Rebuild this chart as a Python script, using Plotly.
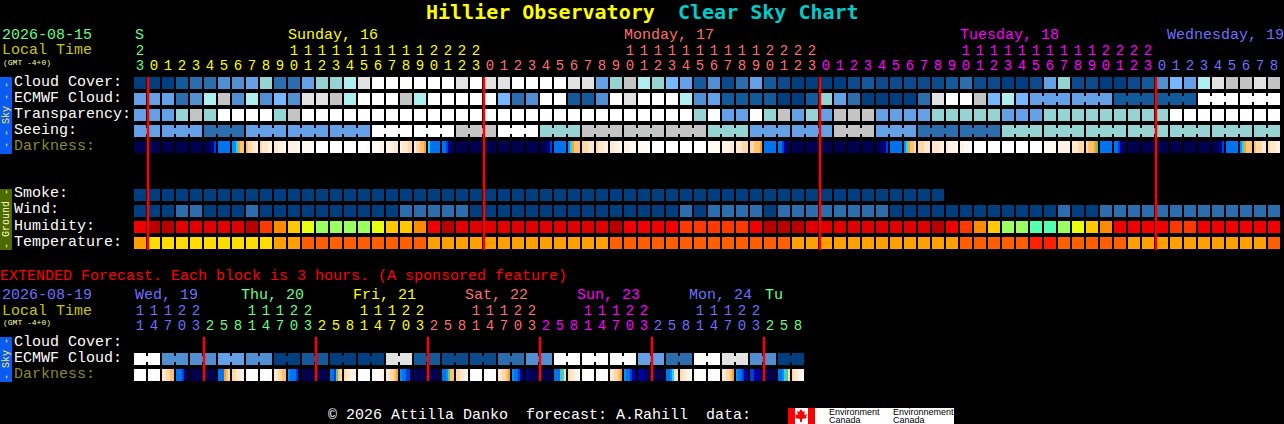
import plotly.graph_objects as go

W = 1284
H = 424
MONO = "Liberation Mono"
BOLD = "DejaVu Sans Mono"

# sky levels, clear (dark blue) to overcast (white)
sky_levels = [0, 5, 10, 20, 30, 40, 50, 60, 70, 80, 90, 100]
sky_colors = ["#003f7f", "#0c4a8b", "#135a9b", "#2c6ead", "#4f8fd2", "#63a0e6",
              "#76b7ff", "#96d4d4", "#aeeeee", "#c4c4c4", "#e2e2e2", "#ffffff"]

cloud_cover = [0, 0, 0, 10, 20, 20, 30, 30, 40, 60,
               20, 20, 40, 60, 60, 70, 90, 100, 100, 100,
               100, 100, 100, 90, 100, 90, 90, 100, 100, 100,
               100, 90, 90, 40, 60, 80, 70, 60, 50, 40,
               10, 30, 5, 20, 40, 10, 5, 0, 0, 0,
               0, 5, 10, 5, 5, 5, 5, 5, 10, 20,
               5, 5, 0, 0, 5, 40, 60, 5, 5, 0,
               0, 5, 10, 30, 50, 40, 70, 90, 80, 80, 90, 80]
ecmwf_cloud = [40, 40, 40, 20, 30, 70, 80, 30, 70, 30,
               50, 30, 90, 90, 80, 70, 100, 100, 100, 80,
               70, 100, 100, 100, 100, 100, 50, 20, 30, 100,
               100, 10, 10, 30, 100, 90, 100, 100, 100, 70,
               30, 40, 10, 10, 10, 10, 0, 0, 10, 60,
               40, 20, 0, 0, 0, 0, 20, 90, 100, 100,
               80, 50, 70, 50, 40, 40, 40, 40, 40, 40,
               10, 10, 10, 10, 10, 10, 100, 100, 100, 100, 100, 100]
transparency = [40, 40, 40, 60, 80, 60, 100, 100, 100, 100,
                60, 80, 100, 100, 100, 100, 100, 100, 100, 100,
                100, 100, 100, 100, 100, 100, 100, 100, 100, 100,
                100, 100, 100, 100, 100, 100, 100, 100, 100, 100,
                60, 100, 40, 40, 100, 60, 80, 40, 60, 40,
                80, 80, 80, 40, 40, 40, 40, 60, 60, 60,
                60, 60, 40, 40, 40, 60, 60, 60, 60, 60,
                60, 60, 60, 60, 100, 100, 100, 100, 100, 100, 100, 100]
seeing = [40, 40, 40, 40, 40, 20, 20, 20, 40, 40,
          40, 40, 40, 40, 40, 40, 40, 100, 100, 100,
          100, 100, 100, 80, 80, 80, 100, 100, 100, 60,
          60, 60, 80, 80, 80, 80, 80, 80, 80, 80,
          80, 60, 60, 60, 40, 40, 40, 40, 40, 40,
          80, 80, 80, 40, 40, 40, 20, 20, 20, 20,
          20, 20, 60, 60, 60, 60, 60, 60, 60, 60,
          60, 60, 60, 60, 60, 60, 60, 60, 60, 60, 60, 60]
smoke = [0] * 58
wind = [0, 0, 0, 20, 20, 0, 0, 0, 20, 0,
        0, 0, 0, 0, 0, 0, 0, 0, 0, 20,
        20, 20, 20, 20, 0, 0, 0, 0, 0, 0,
        0, 0, 0, 0, 0, 0, 0, 0, 0, 20,
        0, 20, 20, 20, 20, 0, 20, 20, 20, 20,
        20, 20, 20, 20, 0, 0, 0, 0, 0, 0,
        0, 0, 0, 0, 0, 0, 20, 0, 0, 20,
        20, 20, 20, 20, 20, 20, 20, 20, 20, 20, 20, 20]

humidity_levels = [100, 90, 85, 80, 75, 70, 65, 60, 55]
humidity_colors = ["#b80000", "#e00000", "#f00000", "#ff3800", "#ff8a00",
                   "#ffc800", "#e8ff10", "#9aff60", "#55ffb0"]
humidity = [85, 100, 100, 90, 90, 90, 90, 90, 100, 80,
            75, 70, 65, 60, 60, 60, 60, 65, 70, 70,
            75, 85, 100, 90, 90, 90, 90, 90, 90, 90,
            90, 90, 90, 90, 100, 85, 85, 85, 85, 80,
            80, 80, 80, 80, 85, 100, 100, 100, 90, 90,
            90, 90, 90, 90, 90, 90, 90, 100, 85, 80,
            75, 70, 60, 60, 55, 55, 60, 65, 70, 75,
            85, 85, 85, 85, 80, 80, 85, 85, 85, 85, 85, 85]

temp_levels = [18, 21, 25, 29]
temp_colors = ["#ffdd00", "#ffa000", "#ff5f00", "#ff2000"]
temperature = [21, 18, 18, 18, 18, 18, 18, 18, 18, 18,
               21, 21, 25, 25, 25, 25, 25, 25, 25, 25,
               25, 21, 21, 21, 21, 21, 21, 21, 21, 21,
               21, 21, 21, 21, 25, 25, 25, 25, 25, 25,
               25, 25, 25, 25, 25, 25, 25, 21, 21, 21,
               21, 21, 21, 21, 21, 21, 21, 21, 21, 25,
               25, 25, 25, 25, 29, 29, 25, 25, 25, 25,
               25, 21, 21, 21, 21, 21, 21, 21, 21, 21, 21, 25]

# darkness is read in 6 steps per block, a single letter means the whole block
dark_codes = "nmcdbfygopqrstw"
dark_colors = ["#00004f", "#000070", "#0000a0", "#0040d0", "#0073f0", "#0090ff", "#20d8ff", "#70c070",
               "#ffa020", "#ffc070", "#ffd8a8", "#ffe8cc", "#fff2e4", "#fffaf4", "#ffffff"]
darkness = ["n", "n", "n", "n", "n", "nnnmcd", "b", "ffyopp", "pqqrrs", "qrrrss",
            "rrssst", "ssssst", "t", "w", "w", "w", "wwwwtt", "ttttss", "ssssrr", "srrrqq",
            "rqqppo", "ybbbbb", "bbdcmn", "n", "n", "n", "n", "n", "n", "nnnmcd",
            "b", "fyoppp", "qqqrrr", "qrrrss", "rrssst", "sssttt", "tttttw", "w", "w", "w",
            "w", "t", "ssssrr", "rrrqqq", "qqpppo", "b", "bbdcmn", "n", "n", "n",
            "n", "n", "n", "nnmmcd", "b", "fyoppq", "qqqrrr", "rrrrss", "rsssst", "sstttt",
            "w", "w", "w", "w", "w", "t", "s", "rrrqqq", "qpppog", "b",
            "bbdcmn", "n", "n", "n", "n", "n", "n", "nnnmcd", "b", "fyoppp", "pqqqrr", "qrrrss"]

# extended forecast, one block every 3 hours
ext_ecmwf = [100, 100, 30, 30, 30, 30, 40, 40, 30, 30, 0, 0,
             10, 10, 0, 0, 0, 0, 90, 90, 10, 10, 5, 5,
             5, 5, 20, 20, 30, 30, 100, 100, 100, 100, 100, 100,
             40, 40, 20, 20, 100, 100, 90, 90, 30, 30, 0, 0]
ext_darkness = ["w", "wwwttt", "rrqqpp", "bbbdmn", "n", "n", "bbbopq", "qqrrss",
                "w", "wwwttt", "rrqqpp", "fbbbdn", "n", "n", "bbdgpq", "qrrsss",
                "w", "wwttts", "rrqqpo", "fbbddm", "mnnnnn", "n", "bbfgpp", "qqrrss",
                "w", "wwwttt", "rrqqpo", "fbbdcn", "cmnnnn", "n", "bbbgyq", "qrrsst",
                "w", "wwwttt", "rrqqpo", "fbbdcc", "cccmmn", "n", "bbfyqr", "qrrsst",
                "w", "wwwttt", "rrqqpo", "fbbdcc", "ddcccm", "n", "bbfygq", "qrrsst"]

# header labels
hour_units = "3" + "012345678901234567890123" * 3 + "012345678"
hour_tens = "2" + ("          " + "1111111111" + "2222") * 3 + "         "
hour_day_colors = ["#66ff88"] + ["#ffff00"] * 24 + ["#ff6f6f"] * 24 + ["#ff00ff"] * 24 + ["#6f6fff"] * 9
midnights = [0.5, 24.5, 48.5, 72.5]

ext_units = "14703" + "25814703" * 5 + "258"
ext_tens = "11122" + "   11122" * 5 + "   "
ext_day_colors = ["#6f6fff"] * 5 + ["#66ff88"] * 8 + ["#ffff00"] * 8 + ["#ff6f6f"] * 8 + ["#ff00ff"] * 8 + ["#6f6fff"] * 8 + ["#66ff88"] * 3
ext_midnights = [4.5, 12.5, 20.5, 28.5, 36.5, 44.5]

day_names = [("S", 135, "#66ff88"), ("Sunday, 16", 288, "#ffff00"), ("Monday, 17", 624, "#ff6f6f"),
             ("Tuesday, 18", 960, "#ff00ff"), ("Wednesday, 19", 1167, "#6f6fff")]
ext_day_names = [("Wed, 19", 135, "#6f6fff"), ("Thu, 20", 241, "#66ff88"), ("Fri, 21", 353, "#ffff00"),
                 ("Sat, 22", 465, "#ff6f6f"), ("Sun, 23", 577, "#ff00ff"), ("Mon, 24", 689, "#6f6fff"),
                 ("Tu", 765, "#66ff88")]
sky_labels = ["Cloud Cover:", "ECMWF Cloud:", "Transparency:", "Seeing:", "Darkness:"]
ground_labels = ["Smoke:", "Wind:", "Humidity:", "Temperature:"]
ext_labels = ["Cloud Cover:", "ECMWF Cloud:", "Darkness:"]


def color_steps(colors):
    # discrete colorscale, one band per index
    n = len(colors)
    steps = []
    for k, c in enumerate(colors):
        steps += [[k / n, c], [(k + 1) / n, c]]
    return steps


def add_row(fig, rows, levels, colors, y, yaxis="y", xgap=2, ygap=4):
    # heatmap of blocks, x is the block number
    z = [[levels.index(v) if v is not None else None for v in row] for row in rows]
    fig.add_trace(go.Heatmap(z=z, y=y, x=list(range(len(z[0]))), xgap=xgap, ygap=ygap, yaxis=yaxis,
                             colorscale=color_steps(colors), zmin=-0.5, zmax=len(colors) - 0.5,
                             showscale=False, hoverinfo="skip"))


def add_joins(fig, values, joined, y, yaxis="y"):
    # short link between blocks of the same forecast period
    row = [values[i] if joined(i) else None for i in range(len(values) - 1)]
    z = [[sky_levels.index(v) if v is not None else None for v in row]]
    fig.add_trace(go.Heatmap(z=z, y=[y], x=[i + 0.5 for i in range(len(row))], xgap=12, ygap=10, yaxis=yaxis,
                             colorscale=color_steps(sky_colors), zmin=-0.5, zmax=len(sky_colors) - 0.5,
                             showscale=False, hoverinfo="skip"))


def add_darkness(fig, blocks, y, yaxis="y"):
    # 7 columns per block, the first 6 are the gradient and the last is the black gap
    z = []
    x = []
    for i, b in enumerate(blocks):
        codes = b * 6 if len(b) == 1 else b
        for j, c in enumerate(codes):
            z.append(dark_codes.index(c))
            x.append(i + (2 * j - 5) / 14)
        z.append(None)
        x.append(i + 0.5)
    fig.add_trace(go.Heatmap(z=[z], x=x, y=[y], ygap=4, yaxis=yaxis,
                             colorscale=color_steps(dark_colors), zmin=-0.5, zmax=len(dark_colors) - 0.5,
                             showscale=False, hoverinfo="skip"))


def add_midnights(fig, cols, y0, y1, yaxis="y"):
    xs, ys = [], []
    for c in cols:
        xs += [c + 1 / 14, c + 1 / 14, None]
        ys += [y0, y1, None]
    fig.add_trace(go.Scatter(x=xs, y=ys, mode="lines", line=dict(color="#ff0000", width=2.5), yaxis=yaxis,
                             hoverinfo="skip", showlegend=False))


def add_digits(fig, chars, colors, y, yaxis="y"):
    fig.add_trace(go.Scatter(x=list(range(len(chars))), y=[y] * len(chars), text=list(chars), mode="text",
                             textposition="middle center", cliponaxis=False, yaxis=yaxis,
                             textfont=dict(family=MONO, size=14, color=colors),
                             hoverinfo="skip", showlegend=False))


def label(text, x, y, color="#ffffff", size=15, bold=False, anchor="left", angle=0, family=MONO):
    # text placed by pixel position in the page
    if bold:
        text = "<b>" + text + "</b>"
    if anchor == "left":
        x -= 1.5
    return dict(text=text, x=x / W, y=1 - y / H, xref="paper", yref="paper", xanchor=anchor, yanchor="middle",
                showarrow=False, textangle=angle, borderpad=0, font=dict(family=family, size=size, color=color))


def box(x0, y0, x1, y1, color):
    return dict(type="rect", xref="paper", yref="paper", x0=x0 / W, x1=x1 / W, y0=1 - y0 / H, y1=1 - y1 / H,
                fillcolor=color, line=dict(width=0), layer="above")


fig = go.Figure()

add_row(fig, [cloud_cover, ecmwf_cloud, transparency, seeing], sky_levels, sky_colors, [0, 1, 2, 3])
add_joins(fig, ecmwf_cloud, lambda i: i >= 64 and (i - 64) % 3 != 2, 1)
add_joins(fig, seeing, lambda i: (i - 2) % 3 != 2, 3)
add_darkness(fig, darkness, 4)

smoke_row = smoke + [None] * (len(wind) - len(smoke))
add_row(fig, [smoke_row, wind], sky_levels, sky_colors, [7, 8])
add_row(fig, [humidity], humidity_levels, humidity_colors, [9])
add_row(fig, [temperature], temp_levels, temp_colors, [10])
add_midnights(fig, midnights, -0.375, 10.4375)

add_digits(fig, hour_units, hour_day_colors, -1.06)
add_digits(fig, hour_tens, hour_day_colors, -2.0)

add_row(fig, [ext_ecmwf], sky_levels, sky_colors, [1], yaxis="y2")
add_joins(fig, ext_ecmwf, lambda i: i % 2 == 0, 1, yaxis="y2")
add_darkness(fig, ext_darkness, 2, yaxis="y2")
add_midnights(fig, ext_midnights, -0.375, 2.375, yaxis="y2")
add_digits(fig, ext_units, ext_day_colors, -1.06, yaxis="y2")
add_digits(fig, ext_tens, ext_day_colors, -2.0, yaxis="y2")

notes = [
    label("Hillier Observatory", 426, 12, "#ffff00", 20, True, family=BOLD),
    label("Clear Sky Chart", 678, 12, "#00cccc", 20, True, family=BOLD),
    label("2026-08-15", 2, 35.5, "#66ff88"),
    label("Local Time", 2, 51, "#c8c800"),
    label("(GMT -4+0)", 3, 62, "#ffffaa", 8),
    label("EXTENDED Forecast. Each block is 3 hours. (A sponsored feature)", 0, 276, "#ff0000"),
    label("2026-08-19", 2, 295.5, "#6f6fff"),
    label("Local Time", 2, 311, "#c8c800"),
    label("(GMT -4+0)", 3, 322, "#ffffaa", 8),
    label("© 2026 Attilla Danko  forecast: A.Rahill  data:", 328, 415),
    label("- - Sky - -", 6, 115, "#ffee44", 10, anchor="center", angle=-90),
    label("- Ground -", 6, 219, "#ffffcc", 10, anchor="center", angle=-90),
    label("- Sky -", 6, 359, "#ffee44", 10, anchor="center", angle=-90),
    label("Environment", 829, 412, "#000000", 9, family="Liberation Sans"),
    label("Canada", 829, 420, "#000000", 9, family="Liberation Sans"),
    label("Environnement", 894, 412, "#000000", 9, family="Liberation Sans"),
    label("Canada", 894, 420, "#000000", 9, family="Liberation Sans"),
]
for text, x, color in day_names:
    notes.append(label(text, x, 35.5, color))
for text, x, color in ext_day_names:
    notes.append(label(text, x, 295.5, color))
for k, text in enumerate(sky_labels):
    notes.append(label(text, 14, 82 + 16 * k, "#8a8a30" if text == "Darkness:" else "#ffffff"))
for k, text in enumerate(ground_labels):
    notes.append(label(text, 14, 194 + 16 * k))
for k, text in enumerate(ext_labels):
    notes.append(label(text, 14, 342 + 16 * k, "#8a8a30" if text == "Darkness:" else "#ffffff"))

# maple leaf outline for the logo
leaf = [(801, 409), (803, 412), (805, 411), (804, 415), (807, 414), (806, 417), (807, 418), (802, 419), (802, 422),
        (800, 422), (800, 419), (795, 418), (796, 417), (795, 414), (798, 415), (797, 411), (799, 412)]
leaf_path = "M " + " L ".join(f"{x / W:.5f},{1 - y / H:.5f}" for x, y in leaf) + " Z"

shapes = [
    box(0, 77, 12, 154, "#0a5cf0"),
    box(0, 189, 12, 250, "#4d6a00"),
    box(0, 337, 12, 382, "#0a5cf0"),
    box(788, 408, 954, 424, "#ffffff"),
    box(788, 408, 795, 424, "#ff0000"),
    box(808, 408, 815, 424, "#ff0000"),
    dict(type="path", xref="paper", yref="paper", path=leaf_path, fillcolor="#ff0000", line=dict(width=0), layer="above"),
]

fig.update_layout(
    width=W, height=H, autosize=False,
    margin=dict(l=0, r=0, t=0, b=0, pad=0),
    paper_bgcolor="#000000", plot_bgcolor="#000000",
    showlegend=False,
    # 14 px per block, 16 px per row
    xaxis=dict(range=[-140 / 14, (W - 140) / 14], domain=[0, 1], visible=False, fixedrange=True),
    yaxis=dict(range=[(H - 83) / 16, -83 / 16], domain=[0, 1], visible=False, fixedrange=True),
    yaxis2=dict(range=[(H - 343) / 16, -343 / 16], domain=[0, 1], visible=False, fixedrange=True,
                overlaying="y", anchor="x"),
    annotations=notes,
    shapes=shapes,
)

fig.write_html("out.html", config=dict(displayModeBar=False),
               post_script="document.body.style.margin='0';document.body.style.background='#000';document.body.style.overflow='hidden';")
